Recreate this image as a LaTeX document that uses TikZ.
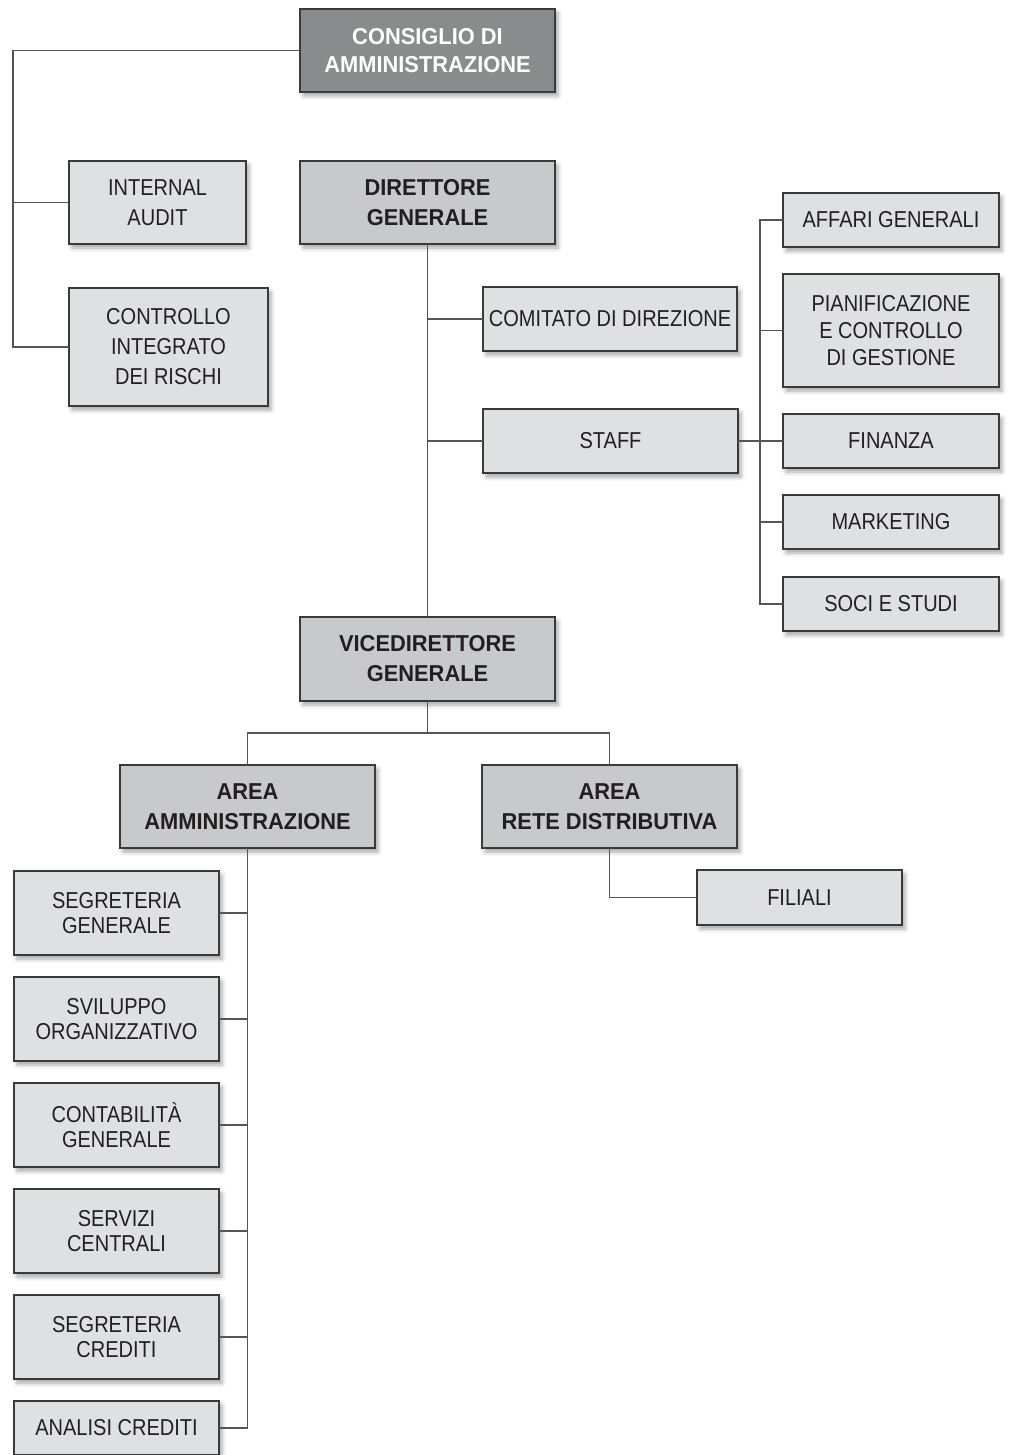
\documentclass[tikz,border=0pt]{standalone}
\usepackage{fontspec}
\setmainfont{Liberation Sans}
\newfontfamily\regf[FakeStretch=0.87]{Liberation Sans}
\newfontfamily\bldf[FakeStretch=0.95]{Liberation Sans}
\usetikzlibrary{shadows.blur}
\definecolor{darkc}{HTML}{8A8B8D}
\definecolor{midc}{HTML}{C8C9CB}
\definecolor{lightc}{HTML}{DFE0E2}
\definecolor{bordc}{HTML}{3A3A3A}
\definecolor{txtc}{HTML}{231F20}
\definecolor{linec}{HTML}{555555}
\tikzset{
  base/.style={draw=bordc, line width=0.75pt, anchor=north west, inner sep=0pt, outer sep=0pt,
    align=center, text=txtc,
    blur shadow={shadow xshift=1.5pt, shadow yshift=-2pt, shadow blur radius=2pt, shadow opacity=35}},
  lite/.style={base, fill=lightc, font=\regf\fontsize{11.5}{15}\selectfont},
  midb/.style={base, fill=midc, font=\bldf\bfseries\fontsize{11.5}{15}\selectfont},
  darkb/.style={base, fill=darkc, text=white, font=\bldf\bfseries\fontsize{11.5}{14}\selectfont},
  sz/.style 2 args={minimum width=#1*0.5pt, minimum height=#2*0.5pt},
  link/.style={draw=linec, line width=0.75pt},
}
\begin{document}
\begin{tikzpicture}[x=0.5pt, y=-0.5pt]
\useasboundingbox (0,0) rectangle (1008,1455);

% top level
\node[darkb, sz={255}{83}] (cda) at (300,9) {CONSIGLIO DI\\AMMINISTRAZIONE};
\node[lite, sz={177}{83}] (ia) at (69,161) {INTERNAL\\AUDIT};
\node[lite, sz={199}{118}] (ctrl) at (69,288) {CONTROLLO\\INTEGRATO\\DEI RISCHI};
\node[midb, sz={255}{83}] (dg) at (300,161) {DIRETTORE\\GENERALE};
\node[lite, sz={254}{64}] (cdd) at (483,287) {COMITATO DI DIREZIONE};
\node[lite, sz={255}{64}] (staff) at (483,409) {STAFF};

% staff units
\node[lite, sz={216}{54}] (aff) at (783,193) {AFFARI GENERALI};
\node[lite, sz={216}{113}, font=\regf\fontsize{11.5}{13.5}\selectfont] (pian) at (783,274) {PIANIFICAZIONE\\E CONTROLLO\\DI GESTIONE};
\node[lite, sz={216}{54}] (fin) at (783,414) {FINANZA};
\node[lite, sz={216}{54}] (mkt) at (783,495) {MARKETING};
\node[lite, sz={216}{54}] (soci) at (783,577) {SOCI E STUDI};

% vice
\node[midb, sz={255}{84}] (vdg) at (300,617) {VICEDIRETTORE\\GENERALE};
\node[midb, sz={255}{83}] (aa) at (120,765) {AREA\\AMMINISTRAZIONE};
\node[midb, sz={255}{83}] (ard) at (482,765) {AREA\\RETE DISTRIBUTIVA};
\node[lite, sz={205}{55}] (fil) at (697,870) {FILIALI};

% admin units
\node[lite, sz={205}{84}, font=\regf\fontsize{11.5}{12.5}\selectfont] (sg) at (14,871) {SEGRETERIA\\GENERALE};
\node[lite, sz={205}{84}, font=\regf\fontsize{11.5}{12.5}\selectfont] (so) at (14,977) {SVILUPPO\\ORGANIZZATIVO};
\node[lite, sz={205}{84}, font=\regf\fontsize{11.5}{12.5}\selectfont] (cg) at (14,1083) {CONTABILITÀ\\GENERALE};
\node[lite, sz={205}{84}, font=\regf\fontsize{11.5}{12.5}\selectfont] (sc) at (14,1189) {SERVIZI\\CENTRALI};
\node[lite, sz={205}{84}, font=\regf\fontsize{11.5}{12.5}\selectfont] (scr) at (14,1295) {SEGRETERIA\\CREDITI};
\node[lite, sz={205}{54}] (ac) at (14,1401) {ANALISI CREDITI};

% connectors: board
\coordinate (lbus) at (13,0);
\draw[link] (cda.west) -- (lbus |- cda.west) -- (lbus |- ctrl.west) -- (ctrl.west);
\draw[link] (lbus |- ia.west) -- (ia.west);

% director
\draw[link] (dg.south) -- (vdg.north);
\draw[link] (dg.south |- cdd.west) -- (cdd.west);
\draw[link] (dg.south |- staff.west) -- (staff.west);

% staff bus
\coordinate (sbus) at (760,0);
\draw[link] (staff.east) -- (fin.west);
\draw[link] (aff.west) -- (sbus |- aff.west) -- (sbus |- soci.west) -- (soci.west);
\draw[link] (sbus |- pian.west) -- (pian.west);
\draw[link] (sbus |- mkt.west) -- (mkt.west);

% vice director
\coordinate (vbar) at (0,733);
\draw[link] (vdg.south) -- (vdg.south |- vbar);
\draw[link] (aa.north) -- (aa.north |- vbar) -- (ard.north |- vbar) -- (ard.north);
\draw[link] (ard.south) |- (fil.west);

% admin bus
\draw[link] (aa.south) -- (aa.south |- ac.east) -- (ac.east);
\draw[link] (aa.south |- sg.east) -- (sg.east);
\draw[link] (aa.south |- so.east) -- (so.east);
\draw[link] (aa.south |- cg.east) -- (cg.east);
\draw[link] (aa.south |- sc.east) -- (sc.east);
\draw[link] (aa.south |- scr.east) -- (scr.east);
\end{tikzpicture}
\end{document}
